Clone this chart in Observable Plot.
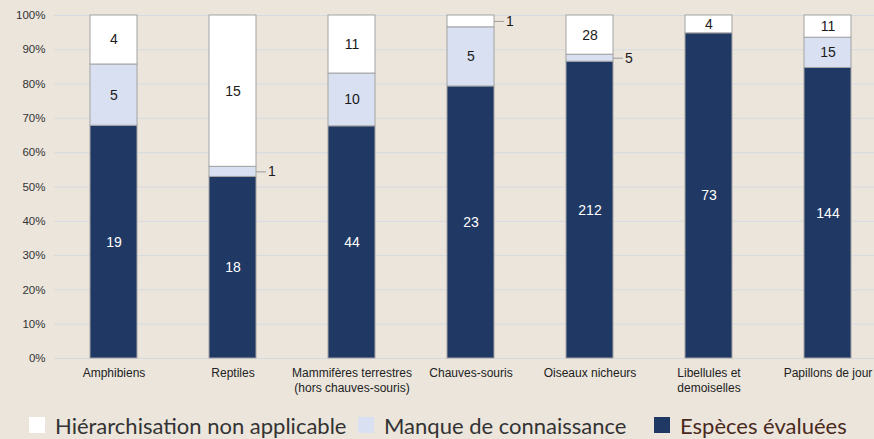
<!DOCTYPE html>
<html><head><meta charset="utf-8">
<script src="https://cdn.jsdelivr.net/npm/d3@7"></script>
<script src="https://cdn.jsdelivr.net/npm/@observablehq/plot@0.6"></script>
<style>
html,body{margin:0;padding:0;background:#ebe5dc;}
#chart{position:relative;width:874px;height:439px;overflow:hidden;background:#ebe5dc;}
#chart svg{position:absolute;left:0;top:0;}
.legend{position:absolute;top:412px;left:0;width:874px;height:26px;font-family:Lato,sans-serif;font-size:22px;color:#333;}
.item{position:absolute;top:0;height:26px;display:flex;align-items:center;white-space:nowrap;}
.sw{width:16px;height:16px;margin-right:10px;flex:none;}
.item:nth-child(1){left:29px;}
.item:nth-child(2){left:358px;}
.item:nth-child(3){left:654px;color:#4a2a1c;}
</style></head><body><div id="chart"></div>
<script>
const groups = ["Amphibiens","Reptiles","Mammifères terrestres\n(hors chauves-souris)","Chauves-souris","Oiseaux nicheurs","Libellules et\ndemoiselles","Papillons de jour"];
const categories = ["Espèces évaluées","Manque de connaissance","Hiérarchisation non applicable"];
const evaluees = [19,18,44,23,212,73,144];
const manque = [5,1,10,5,5,0,15];
const nonApplicable = [4,15,11,1,28,4,11];
const colors = ["#203864","#d8e0f1","#ffffff"];
const yTicks = [0,0.1,0.2,0.3,0.4,0.5,0.6,0.7,0.8,0.9,1];

const series = [evaluees, manque, nonApplicable];
const rows = [];
groups.forEach((g, i) => {
  const total = evaluees[i] + manque[i] + nonApplicable[i];
  series.forEach((arr, k) => {
    if (arr[i] > 0) rows.push({group: g, cat: categories[k], value: arr[i], share: arr[i] / total});
  });
});

const st = (extra) => Plot.stackY({x: "group", y: "value", offset: "normalize", ...extra});
const small = d => d.share < 0.04;

const plot = Plot.plot({
  width: 874, height: 400,
  marginLeft: 54, marginRight: 0, marginTop: 15, marginBottom: 42,
  style: {background: "transparent", fontFamily: "'Liberation Sans', Arial, sans-serif", overflow: "visible"},
  x: {domain: groups, range: [54, 887], paddingInner: 0.605, paddingOuter: 0.3025},
  y: {domain: [0, 1]},
  color: {domain: categories, range: colors},
  marks: [
    Plot.gridY(yTicks, {stroke: "#d6dae0", strokeOpacity: 1, strokeWidth: 1}),
    Plot.axisY(yTicks, {tickFormat: d3.format(".0%"), tickSize: 0, tickPadding: 9, fontSize: 11.5, fill: "#333", label: null}),
    Plot.axisX({tickSize: 0, tickPadding: 9, fontSize: 12, lineHeight: 1.17, fill: "#222", label: null}),
    Plot.barY(rows, st({fill: "cat", stroke: "#a3a3a3", strokeWidth: 1})),
    Plot.text(rows, Plot.filter(d => !small(d) && d.cat === categories[0], st({text: "value", fill: "white", fontSize: 14}))),
    Plot.text(rows, Plot.filter(d => !small(d) && d.cat !== categories[0], st({text: "value", fill: "#1a1a1a", fontSize: 14}))),
    Plot.tickY(rows, Plot.filter(small, st({stroke: "#9a9a9a", strokeWidth: 1, insetLeft: 37, dx: 10}))),
    Plot.text(rows, Plot.filter(small, st({text: "value", fill: "#1a1a1a", fontSize: 14, textAnchor: "start", dx: 35})))
  ]
});

const chart = document.getElementById("chart");
chart.appendChild(plot);
const legend = document.createElement("div");
legend.className = "legend";
[2, 1, 0].forEach(k => {
  const it = document.createElement("div");
  it.className = "item";
  const sw = document.createElement("span");
  sw.className = "sw";
  sw.style.background = colors[k];
  const tx = document.createElement("span");
  tx.textContent = categories[k];
  it.appendChild(sw); it.appendChild(tx);
  legend.appendChild(it);
});
chart.appendChild(legend);
</script>
</body></html>
